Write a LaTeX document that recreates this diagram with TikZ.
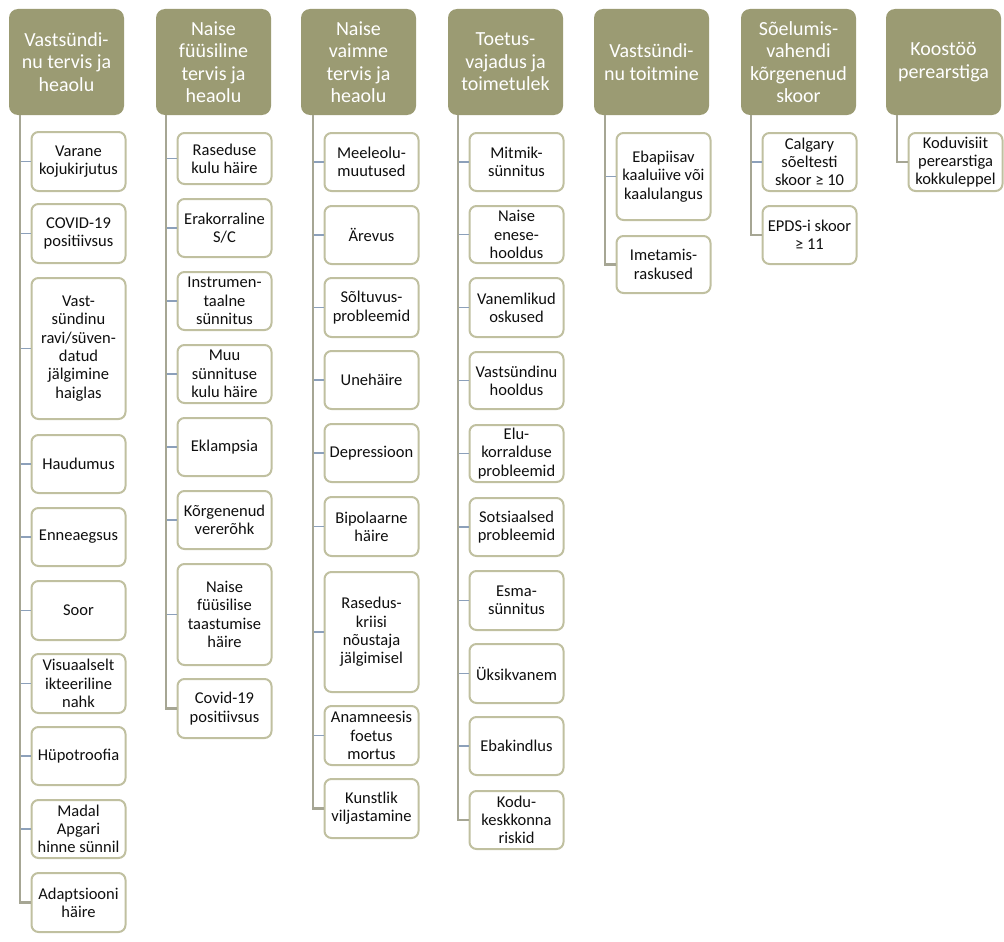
\documentclass[tikz,border=0pt]{standalone}
\usepackage{fontspec}
\setmainfont{Carlito}
\definecolor{hdr}{RGB}{155,155,115}
\definecolor{kidline}{RGB}{192,192,160}
\definecolor{trunk}{RGB}{166,166,148}
\definecolor{stub}{RGB}{140,160,186}
\definecolor{txt}{RGB}{15,15,15}
\tikzset{
  hdrbox/.style={rectangle, rounded corners=9pt, fill=hdr, draw=none, text=white,
    minimum width=115, minimum height=106, align=center, inner sep=1pt,
    font=\fontsize{20}{22.5}\selectfont},
  kidbox/.style={rectangle, rounded corners=7pt, fill=white, draw=kidline, line width=2pt,
    minimum width=94, align=center, inner sep=1pt, text=txt,
    font=\fontsize{16.5}{18.3}\selectfont},
  trunkline/.style={draw=trunk, line width=2.6pt},
  stubline/.style={draw=stub, line width=1.4pt},
}
\newcommand\kid[5]{\node[kidbox, minimum height={#4-#3}] (#1) at ({#2+47.5},{(#3+#4)/2}) {#5};}
\newcommand\hdr[3]{\node[hdrbox] (#1) at ({#2+57.5},62) {#3};}
\begin{document}
\begin{tikzpicture}[x=1pt,y=-1pt]
\useasboundingbox (0,0) rectangle (1004,942);
% headers
\hdr{h1}{9}{Vastsündi-\\nu tervis ja\\heaolu}
\hdr{h2}{156}{Naise\\füüsiline\\tervis ja\\heaolu}
\hdr{h3}{301}{Naise\\vaimne\\tervis ja\\heaolu}
\hdr{h4}{448}{Toetus-\\vajadus ja\\toimetulek}
\hdr{h5}{594}{Vastsündi-\\nu toitmine}
\hdr{h6}{741}{Sõelumis-\\vahendi\\kõrgenenud\\skoor}
\hdr{h7}{886}{Koostöö\\perearstiga}
% column 1
\kid{a1}{31}{132}{191}{Varane\\kojukirjutus}
\kid{a2}{31}{204}{263}{COVID-19\\positiivsus}
\kid{a3}{31}{278}{419}{Vast-\\sündinu\\ravi/süven-\\datud\\jälgimine\\haiglas}
\kid{a4}{31}{435}{493}{Haudumus}
\kid{a5}{31}{508}{566}{Enneaegsus}
\kid{a6}{31}{581}{640}{Soor}
\kid{a7}{31}{654}{713}{Visuaalselt\\ikteeriline\\nahk}
\kid{a8}{31}{727}{785}{Hüpotroofia}
\kid{a9}{31}{800}{858}{Madal\\Apgari\\hinne sünnil}
\kid{a10}{31}{873}{932}{Adaptsiooni\\häire}
% column 2
\kid{b1}{177}{133}{184}{Raseduse\\kulu häire}
\kid{b2}{177}{199}{257}{Erakorraline\\S/C}
\kid{b3}{177}{272}{330}{Instrumen-\\taalne\\sünnitus}
\kid{b4}{177}{345}{403}{Muu\\sünnituse\\kulu häire}
\kid{b5}{177}{418}{476}{Eklampsia}
\kid{b6}{177}{491}{549}{Kõrgenenud\\vererõhk}
\kid{b7}{177}{564}{665}{Naise\\füüsilise\\taastumise\\häire}
\kid{b8}{177}{679}{738}{Covid-19\\positiivsus}
% column 3
\kid{c1}{324}{133}{191}{Meeleolu-\\muutused}
\kid{c2}{324}{206}{264}{Ärevus}
\kid{c3}{324}{278}{337}{Sõltuvus-\\probleemid}
\kid{c4}{324}{351}{409}{Unehäire}
\kid{c5}{324}{424}{482}{Depressioon}
\kid{c6}{324}{497}{556}{Bipolaarne\\häire}
\kid{c7}{324}{572}{692}{Rasedus-\\kriisi\\nõustaja\\jälgimisel}
\kid{c8}{324}{706}{765}{Anamneesis\\foetus\\mortus}
\kid{c9}{324}{779}{838}{Kunstlik\\viljastamine}
% column 4
\kid{d1}{469}{133}{191}{Mitmik-\\sünnitus}
\kid{d2}{469}{206}{263}{Naise\\enese-\\hooldus}
\kid{d3}{469}{278}{337}{Vanemlikud\\oskused}
\kid{d4}{469}{352}{409}{Vastsündinu\\hooldus}
\kid{d5}{469}{425}{482}{Elu-\\korralduse\\probleemid}
\kid{d6}{469}{498}{556}{Sotsiaalsed\\probleemid}
\kid{d7}{469}{571}{630}{Esma-\\sünnitus}
\kid{d8}{469}{644}{703}{Üksikvanem}
\kid{d9}{469}{717}{775}{Ebakindlus}
\kid{d10}{469}{791}{849}{Kodu-\\keskkonna\\riskid}
% column 5
\kid{e1}{616}{133}{220}{Ebapiisav\\kaaluiive või\\kaalulangus}
\kid{e2}{616}{236}{293}{Imetamis-\\raskused}
% column 6
\kid{f1}{762}{133}{191}{Calgary\\sõeltesti\\skoor ≥ 10}
\kid{f2}{762}{206}{264}{EPDS-i skoor\\≥ 11}
% column 7
\kid{g1}{908}{133}{191}{Koduvisiit\\perearstiga\\kokkuleppel}
% stubs
\foreach \n in {a1,a2,a3,a4,a5,a6,a7,a8,a9,b1,b2,b3,b4,b5,b6,b7,c1,c2,c3,c4,c5,c6,c7,c8,d1,d2,d3,d4,d5,d6,d7,d8,d9,e1,f1}
  \draw[stubline] (\n.west) -- ++(-11,0);
% trunks
\draw[trunkline] (h1.south west) ++(11,0) |- (a10.west);
\draw[trunkline] (h2.south west) ++(10,0) |- (b8.west);
\draw[trunkline] (h3.south west) ++(12,0) |- (c9.west);
\draw[trunkline] (h4.south west) ++(10,0) |- (d10.west);
\draw[trunkline] (h5.south west) ++(11,0) |- (e2.west);
\draw[trunkline] (h6.south west) ++(10,0) |- (f2.west);
\draw[trunkline] (h7.south west) ++(11,0) |- (g1.west);
\end{tikzpicture}
\end{document}
